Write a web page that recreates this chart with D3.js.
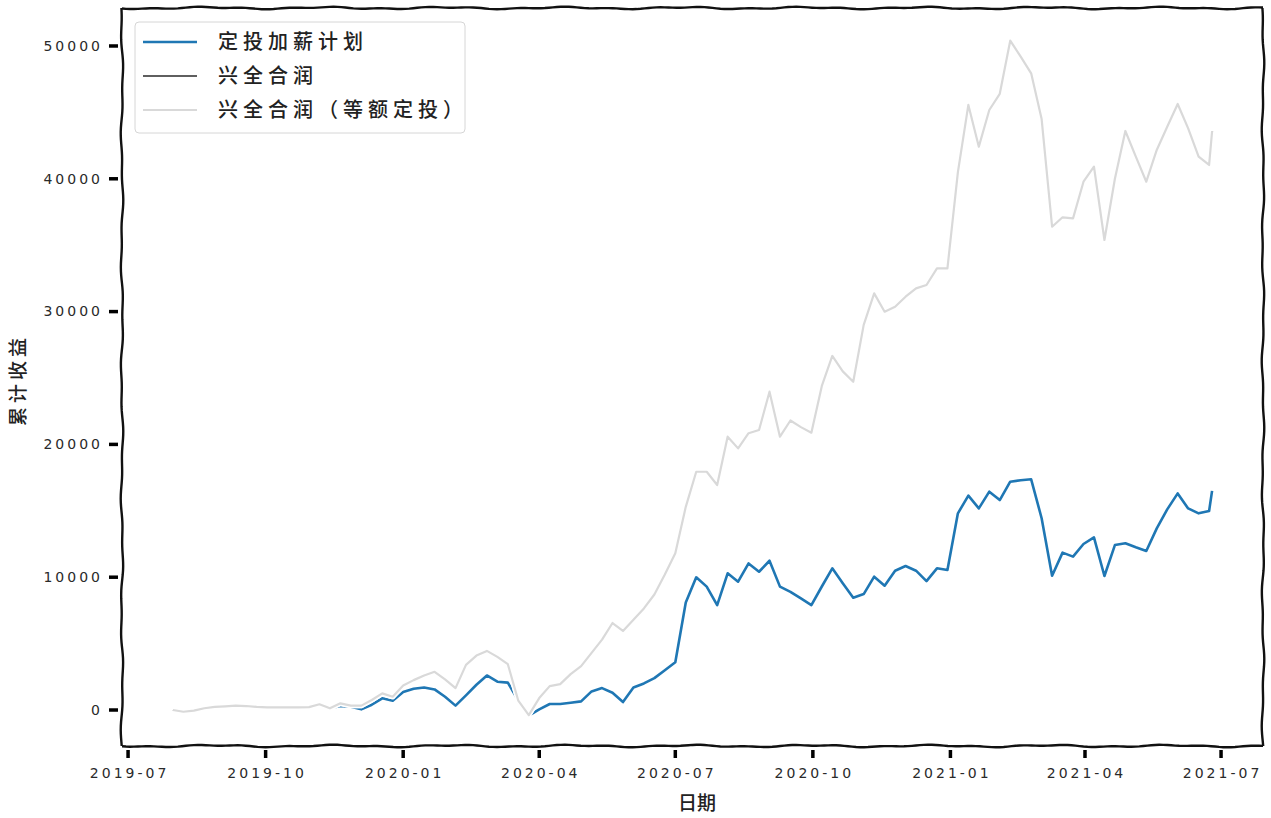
<!DOCTYPE html>
<html>
<head>
<meta charset="utf-8">
<script src="https://cdn.jsdelivr.net/npm/d3@7"></script>
<style>
  body { margin: 0; background: #fff; }
  svg { display: block; }
  .tick-label { font-family: "DejaVu Sans", sans-serif; font-size: 14px; letter-spacing: 3px; fill: #2a2a2a; }
  .cjk { font-family: "Noto Sans CJK SC", sans-serif; fill: #222; font-weight: 500; }
</style>
</head>
<body>
<svg id="chart" width="1271" height="818"></svg>
<script>
// weekly (Wednesday) samples plus the last day
const dates = d3.timeWednesday.range(new Date(2019, 6, 31), new Date(2021, 5, 24))
  .concat([new Date(2021, 5, 25)]);

const seriesNames = ["定投加薪计划", "兴全合润", "兴全合润（等额定投）"];
const seriesColors = ["#1f77b4", "#5f5f5f", "#d9d9d9"];

// 兴全合润（等额定投）
const fixedInvest = [
  0, -130, -50, 130, 230, 280, 330, 300, 230, 200,
  200, 200, 200, 220, 430, 130, 500, 330, 330, 750,
  1250, 1000, 1850, 2250, 2600, 2880, 2300, 1650, 3400, 4100,
  4450, 4000, 3450, 700, -380, 900, 1800, 1950, 2700, 3300,
  4300, 5300, 6550, 5950, 6800, 7650, 8700, 10200, 11800, 15300,
  17940, 17940, 16940, 20580, 19700, 20840, 21080, 23970, 20580, 21800,
  21300, 20880, 24400, 26660, 25500, 24720, 29000, 31370, 29990, 30370,
  31120, 31750, 32000, 33260, 33260, 40500, 45560, 42420, 45180, 46400,
  50400, 49200, 47940, 44500, 36390, 37100, 37020, 39780, 40910, 35390,
  40000, 43600, 41670, 39780, 42170, 43920, 45630, 43800, 41670, 41040,
  43560
];

// 兴全合润 (drawn under the equal-amount line, same values)
const fundReturn = fixedInvest;

// 定投加薪计划
const salaryPlan = [
  null, null, null, null, null, null, null, null, null, null,
  null, null, null, null, null, 130, 300, 250, 50, 400,
  880, 700, 1350, 1600, 1700, 1550, 1000, 330, 1100, 1900,
  2600, 2130, 2060, 700, -420, 50, 450, 450, 550, 650,
  1400, 1650, 1300, 600, 1700, 2000, 2400, 3000, 3600, 8100,
  9990, 9290, 7900, 10290, 9660, 11040, 10410, 11240, 9290, 8900,
  8400, 7900, 9300, 10670, 9540, 8460, 8730, 10040, 9360, 10490,
  10840, 10490, 9710, 10670, 10540, 14810, 16140, 15180, 16440, 15810,
  17190, 17300, 17370, 14440, 10110, 11850, 11550, 12500, 13000, 10090,
  12420, 12550, 12250, 11970, 13680, 15110, 16310, 15180, 14810, 14980,
  16500
];

const yTicks = [0, 10000, 20000, 30000, 40000, 50000];
const yLimits = [-2710, 52860];

const plot = { left: 122, right: 1263, top: 8, bottom: 746 };

const svg = d3.select('#chart');

// x with matplotlib-like margins
const xExt = d3.extent(dates);
const xPad = (xExt[1] - xExt[0]) * 0.049;
const x = d3.scaleTime()
  .domain([new Date(+xExt[0] - xPad), new Date(+xExt[1] + xPad)])
  .range([plot.left, plot.right]);

const y = d3.scaleLinear()
  .domain(yLimits)
  .range([plot.bottom, plot.top]);

// hand-drawn style wobbly segment
const wobble = (x0, y0, x1, y1, seed) => {
  const len = Math.hypot(x1 - x0, y1 - y0);
  const n = Math.ceil(len / 4);
  const nx = -(y1 - y0) / len, ny = (x1 - x0) / len;
  const pts = d3.range(n + 1).map(i => {
    const t = i / n, s = t * len;
    const off = 0.8 * Math.sin(s / 19 + seed) + 0.5 * Math.sin(s / 7.3 + seed * 2.1);
    return [x0 + (x1 - x0) * t + nx * off, y0 + (y1 - y0) * t + ny * off];
  });
  return d3.line()(pts);
};

// lines
const series = [
  { name: seriesNames[0], values: salaryPlan, color: seriesColors[0], width: 2.6 },
  { name: seriesNames[1], values: fundReturn, color: seriesColors[1], width: 2.2 },
  { name: seriesNames[2], values: fixedInvest, color: seriesColors[2], width: 2.2 }
];

const line = d3.line()
  .defined(d => d.v !== null)
  .x(d => x(d.date))
  .y(d => y(d.v));

const lines = svg.append('g').attr('class', 'lines');
series.forEach(s => {
  const pts = dates.map((date, i) => ({ date, v: s.values[i] }));
  lines.append('path')
    .attr('d', line(pts))
    .attr('fill', 'none')
    .attr('stroke', '#fff')
    .attr('stroke-width', s.width + 3)
    .attr('stroke-linejoin', 'round');
  lines.append('path')
    .attr('d', line(pts))
    .attr('fill', 'none')
    .attr('stroke', s.color)
    .attr('stroke-width', s.width)
    .attr('stroke-linejoin', 'round');
});

// frame
const frame = svg.append('g').attr('class', 'frame')
  .attr('fill', 'none').attr('stroke', '#111').attr('stroke-width', 2.4);
frame.append('path').attr('d', wobble(plot.left, plot.top, plot.right, plot.top, 0.3));
frame.append('path').attr('d', wobble(plot.right, plot.top, plot.right, plot.bottom, 1.7));
frame.append('path').attr('d', wobble(plot.right, plot.bottom, plot.left, plot.bottom, 2.9));
frame.append('path').attr('d', wobble(plot.left, plot.bottom, plot.left, plot.top, 4.1));

// y axis ticks
const yAxis = svg.append('g').attr('class', 'y-axis');
yTicks.forEach(t => {
  yAxis.append('line')
    .attr('x1', plot.left - 13).attr('x2', plot.left - 4)
    .attr('y1', y(t)).attr('y2', y(t))
    .attr('stroke', '#000').attr('stroke-width', 3.5);
  yAxis.append('text')
    .attr('class', 'tick-label')
    .attr('x', plot.left - 19)
    .attr('y', y(t))
    .attr('dy', '0.35em')
    .attr('text-anchor', 'end')
    .text(t);
});

// x axis ticks
const xTicks = d3.timeMonth.every(3).range(new Date(2019, 6, 1), new Date(2021, 6, 2));
const fmt = d3.timeFormat('%Y-%m');
const xAxis = svg.append('g').attr('class', 'x-axis');
xTicks.forEach(t => {
  xAxis.append('line')
    .attr('x1', x(t)).attr('x2', x(t))
    .attr('y1', plot.bottom + 4).attr('y2', plot.bottom + 12)
    .attr('stroke', '#000').attr('stroke-width', 3.5);
  xAxis.append('text')
    .attr('class', 'tick-label')
    .attr('x', x(t) + 1.5)
    .attr('y', plot.bottom + 32)
    .attr('text-anchor', 'middle')
    .text(fmt(t));
});

// axis titles
svg.append('text')
  .attr('class', 'cjk')
  .attr('x', 697).attr('y', 810)
  .attr('text-anchor', 'middle')
  .style('font-size', '19px')
  .text('日期');

svg.append('text')
  .attr('class', 'cjk')
  .attr('transform', 'translate(25,380) rotate(-90)')
  .attr('text-anchor', 'middle')
  .style('font-size', '19px')
  .style('letter-spacing', '4px')
  .text('累计收益');

// legend
const legend = svg.append('g').attr('class', 'legend');
legend.append('rect')
  .attr('x', 135).attr('y', 22)
  .attr('width', 330).attr('height', 111)
  .attr('rx', 4)
  .attr('fill', '#fff').attr('fill-opacity', 0.85)
  .attr('stroke', '#d6d6d6').attr('stroke-width', 1);

series.forEach((s, i) => {
  const ly = 42 + i * 34;
  legend.append('line')
    .attr('x1', 143).attr('x2', 197)
    .attr('y1', ly).attr('y2', ly)
    .attr('stroke', s.color).attr('stroke-width', s.width);
  legend.append('text')
    .attr('class', 'cjk')
    .attr('x', 218).attr('y', ly)
    .attr('dy', '0.35em')
    .style('font-size', '20px')
    .style('letter-spacing', '5px')
    .text(s.name);
});
</script>
</body>
</html>
